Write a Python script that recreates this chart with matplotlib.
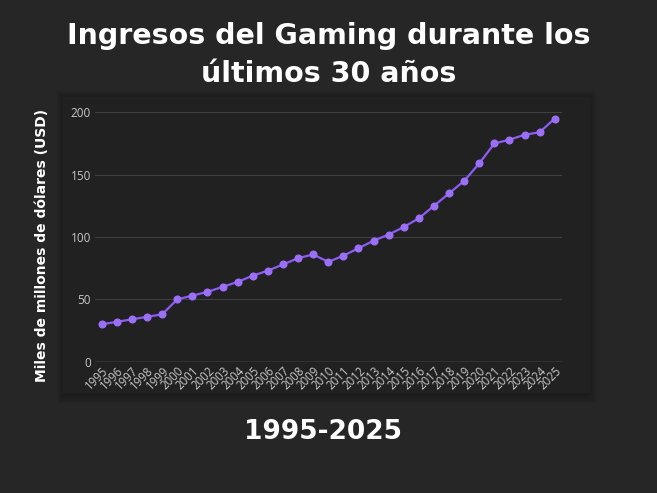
import matplotlib
matplotlib.use("Agg")
import matplotlib.pyplot as plt
from matplotlib.patches import Rectangle

years = list(range(1995, 2026))
revenue = [30, 32, 34, 36, 38, 50, 53, 56, 60, 64, 69, 73, 78, 83, 86, 80,
           85, 91, 97, 102, 108, 115, 125, 135, 145, 159, 175, 178, 182, 184, 195]
y_ticks = [0, 50, 100, 150, 200]

title = "Ingresos del Gaming durante los\núltimos 30 años"
subtitle = "1995-2025"
ylabel = "Miles de millones de dólares (USD)"

W, H = 657, 493
fig = plt.figure(figsize=(W / 100, H / 100), dpi=100)
fig.patch.set_facecolor("#262626")

# panel shadow and panel
for i in range(4):
    d = (i + 1) * 2
    fig.patches.append(Rectangle(((63 - d + 2) / W, 1 - (393 + d + 2) / H),
                                 (527 + 2 * d - 4) / W, (296 + 2 * d) / H,
                                 transform=fig.transFigure, facecolor="black",
                                 alpha=0.06, edgecolor="none", zorder=0))
fig.patches.append(Rectangle((63 / W, 1 - 393 / H), 527 / W, 296 / H,
                             transform=fig.transFigure, facecolor="#212121",
                             edgecolor="none", zorder=1))

ax = fig.add_axes([95 / W, 1 - 361.7 / H, 467 / W, 249.4 / H])
ax.set_facecolor("none")
ax.set_zorder(2)
ax.plot(years, revenue, color="#8b5cf6", lw=1.6, marker="o", ms=4.8,
        mfc="#9b6ff7", mec="#9b6ff7", clip_on=False, zorder=3)
ax.set_xlim(1994.55, 2025.48)
ax.set_ylim(0, 200)
ax.set_yticks(y_ticks)
ax.set_xticks(years)
ax.set_xticklabels([str(y) for y in years], rotation=45, ha="right",
                   rotation_mode="anchor", fontsize=8.3, color="#c8c8c8",
                   family="Open Sans")
ax.set_yticklabels([str(v) for v in y_ticks], fontsize=8.5, color="#c8c8c8",
                   family="Open Sans")
ax.tick_params(axis="both", length=0, pad=3)
ax.tick_params(axis="x", pad=2)
for s in ax.spines.values():
    s.set_visible(False)
ax.grid(axis="y", color="#404040", lw=0.8)
ax.axhline(0, color="#9a9a9a", lw=0.9, zorder=2)
ax.set_axisbelow(True)

fig.text(329 / W, 1 - 55 / H, title, ha="center", va="center", color="white",
         fontsize=20.5, fontweight="bold", family="DejaVu Sans", linespacing=1.5)
fig.text(323 / W, 1 - 432 / H, subtitle, ha="center", va="center", color="white",
         fontsize=19, fontweight="bold", family="DejaVu Sans")
fig.text(42 / W, 1 - 245 / H, ylabel, ha="center", va="center", color="white",
         fontsize=10, fontweight="bold", rotation=90, family="DejaVu Sans")

fig.savefig("out.png", dpi=100, facecolor=fig.get_facecolor())
